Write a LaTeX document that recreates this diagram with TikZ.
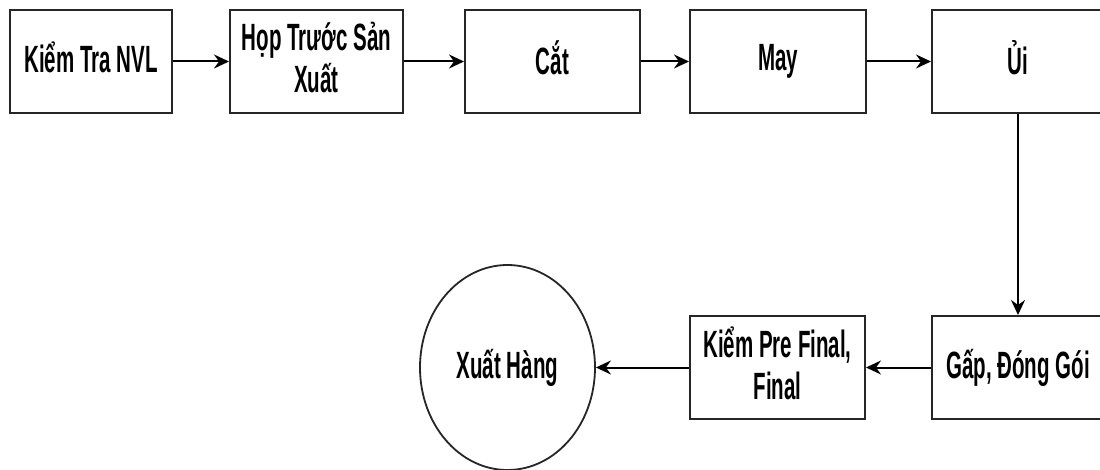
\documentclass[tikz,border=0pt]{standalone}
\usepackage{fontspec}
\newfontfamily\lblfont{Liberation Sans}[FakeStretch=0.54]
\usetikzlibrary{arrows.meta,shapes.geometric}
\newcommand\lblstrut{\rule[-8pt]{0pt}{35pt}}
\begin{document}
\begin{tikzpicture}[x=1pt,y=-1pt,
  lbl/.style={font=\lblfont\bfseries\fontsize{38}{42}\selectfont, align=center, text=black},
  procbox/.style={lbl, draw=black!85, line width=2pt, fill=white, inner sep=0pt, minimum height=103pt},
  endell/.style={lbl, draw=black!85, line width=1.8pt, ellipse, inner sep=0pt, minimum width=175pt, minimum height=205pt},
  flow/.style={draw=black, line width=2pt, -{Stealth[length=15pt,width=14pt,inset=5pt]}}
]
\useasboundingbox[fill=white] (0,0) rectangle (1100,470);
\node[procbox, minimum width=162pt] (nvl) at (91,61.5) {\lblstrut Kiểm Tra NVL};
\node[procbox, minimum width=173pt] (hop) at (316.5,61.5) {\lblstrut Họp Trước Sản\\\lblstrut Xuất};
\node[procbox, minimum width=175pt] (cat) at (552.5,61.5) {\lblstrut Cắt};
\node[procbox, minimum width=176pt] (may) at (778,61.5) {\lblstrut May};
\node[procbox, minimum width=172pt] (ui) at (1018,61.5) {\lblstrut Ủi};
\node[procbox, minimum width=172pt] (gap) at (1018,367.5) {\lblstrut Gấp, Đóng Gói};
\node[procbox, minimum width=175pt] (kiem) at (777.5,367.5) {\lblstrut Kiểm Pre Final,\\\lblstrut Final};
\node[endell] (xuat) at (507.5,367.5) {\lblstrut Xuất Hàng};
\draw[flow] (nvl) -- (hop);
\draw[flow] (hop) -- (cat);
\draw[flow] (cat) -- (may);
\draw[flow] (may) -- (ui);
\draw[flow] (ui) -- (gap);
\draw[flow] (gap) -- (kiem);
\draw[flow] (kiem) -- (xuat);
\end{tikzpicture}
\end{document}
